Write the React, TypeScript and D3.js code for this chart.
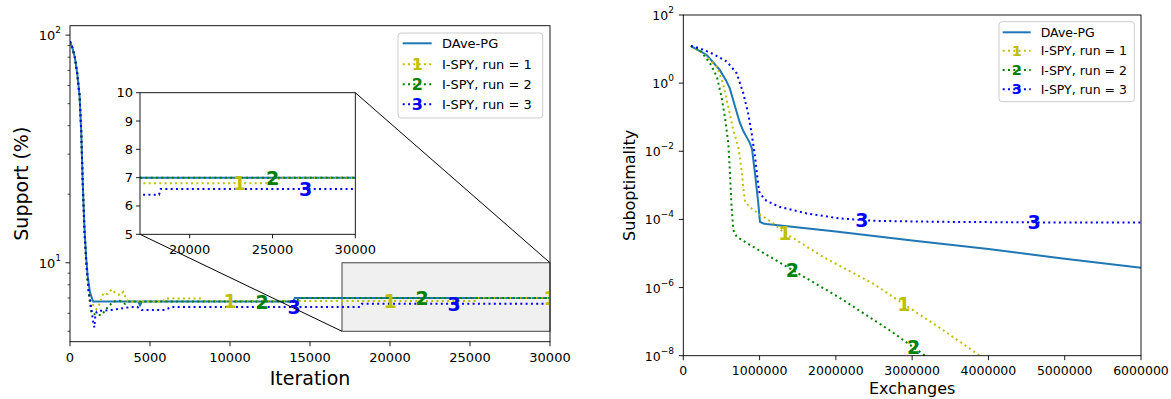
import React from 'react';
import * as d3 from 'd3';

const W = 1171;
const H = 399;

// ---------- Left panel data: [iteration, support %] ----------
const leftDave: [number, number][] = [
  [0, 94], [150, 88], [300, 80], [450, 68], [600, 54], [700, 38], [800, 22], [900, 14.5],
  [1000, 10.8], [1100, 8.8], [1250, 7.4], [1450, 6.75], [4250, 6.75], [4375, 6.5],
  [4500, 6.75], [13950, 6.75], [14050, 7.0], [30000, 7.0],
];
const leftRun1: [number, number][] = [
  [0, 94], [150, 88], [300, 80], [450, 68], [600, 54], [700, 38], [800, 22], [900, 14],
  [1000, 10], [1100, 8.2], [1250, 7.0], [1450, 6.5], [1650, 6.25], [1850, 6.6], [2080, 7.35],
  [2350, 7.3], [2600, 7.65], [2850, 7.35], [3125, 7.2], [3330, 7.45], [3540, 6.85],
  [3700, 6.75], [5800, 6.75], [5950, 6.97], [8200, 6.97], [8400, 6.8], [25300, 6.8],
  [25400, 7.0], [30000, 7.0],
];
const leftRun2: [number, number][] = [
  [0, 94], [150, 88], [300, 80], [450, 68], [600, 54], [700, 38], [800, 22], [900, 14],
  [1000, 10.5], [1150, 7.5], [1350, 6.0], [1670, 5.9], [1980, 5.9], [2290, 6.3], [2700, 6.75],
  [3100, 6.8], [3440, 6.6], [3700, 6.75], [14200, 6.75], [14300, 7.0], [30000, 7.0],
];
const leftRun3: [number, number][] = [
  [0, 94], [150, 88], [300, 80], [450, 68], [600, 54], [700, 38], [800, 22], [900, 14],
  [1000, 10.5], [1150, 7.8], [1300, 6.5], [1450, 5.5], [1520, 5.2], [1580, 5.8], [1670, 6.1],
  [1880, 6.15], [2600, 6.2], [3850, 6.4], [4200, 6.4], [4480, 6.2], [5940, 6.2], [6350, 6.4],
  [18150, 6.4], [18250, 6.6], [30000, 6.6],
];
const leftXTicks = [0, 5000, 10000, 15000, 20000, 25000, 30000];
const leftYMajor = [1, 2]; // exponents 10^1, 10^2
const leftYMinor = [5, 6, 7, 8, 9, 20, 30, 40, 50, 60, 70, 80, 90];
const leftMarks1 = [10000, 20000, 30000];
const leftMarks2 = [12000, 22000];
const leftMarks3 = [14000, 24000];

const insetXTicks = [20000, 25000, 30000];
const insetYTicks = [5, 6, 7, 8, 9, 10];
const insetMarks1 = [23000];
const insetMarks2 = [25000];
const insetMarks3 = [27000];

// ---------- Right panel data: [exchanges, suboptimality] ----------
const rightDave: [number, number][] = [
  [1e5, 12.3], [3.07e5, 6.7], [4.8e5, 2.4], [5.6e5, 1.2], [6.1e5, 0.7], [6.8e5, 0.2],
  [7.4e5, 0.07], [7.9e5, 0.038], [8.3e5, 0.026], [8.7e5, 0.018], [9.0e5, 0.012],
  [9.4e5, 0.0022], [9.83e5, 3e-4], [1.005e6, 8.5e-5], [1.05e6, 7.6e-5],
  [1.09e6, 7.3e-5], [2e6, 4.4e-5], [3e6, 2.4e-5], [4e6, 1.35e-5], [5e6, 7e-6], [6e6, 3.8e-6],
];
const rightRun1: [number, number][] = [
  [1e5, 12.3], [2.6e5, 7.5], [4.4e5, 3.0], [5.2e5, 0.99], [5.9e5, 0.2], [6.55e5, 0.042],
  [7.2e5, 0.0136], [7.65e5, 0.0028], [7.9e5, 7.3e-4], [8.1e5, 3.3e-4], [8.7e5, 2.3e-4],
  [1.0e6, 1.4e-4], [1.18e6, 7.7e-5], [1.33e6, 4e-5], [1.83e6, 8e-6], [2.49e6, 1.3e-6],
  [2.88e6, 3.4e-7], [3.36e6, 6.6e-8], [3.89e6, 1e-8], [4.0e6, 7e-9],
];
const rightRun2: [number, number][] = [
  [1e5, 12.3], [2.2e5, 9.3], [3.5e5, 3.8], [4.4e5, 1.55], [5.0e5, 0.4], [5.46e5, 0.1],
  [5.9e5, 0.017], [6.1e5, 0.0028], [6.3e5, 3e-4], [6.55e5, 4.9e-5], [7e5, 3.1e-5],
  [8.7e5, 1.8e-5], [1.4e6, 3.6e-6], [2.05e6, 5e-7], [2.71e6, 5.5e-8], [3.17e6, 1e-8], [3.25e6, 7e-9],
];
const rightRun3: [number, number][] = [
  [1e5, 12.3], [2.2e5, 10.5], [3.9e5, 7.2], [5.7e5, 4.3], [7e5, 1.95], [7.87e5, 0.5],
  [8.5e5, 0.13], [8.96e5, 0.034], [9.4e5, 0.007], [9.8e5, 1.15e-3], [1.0e6, 5.9e-4],
  [1.09e6, 3.5e-4], [1.27e6, 2.3e-4], [1.62e6, 1.5e-4], [2.05e6, 1.07e-4], [2.49e6, 9.1e-5],
  [3.36e6, 8.5e-5], [4.5e6, 8.2e-5], [6e6, 8.1e-5],
];
const rightXTicks = [0, 1000000, 2000000, 3000000, 4000000, 5000000, 6000000];
const rightYExps = [2, 0, -2, -4, -6, -8];
const rightMarks1 = [1.33e6, 2.89e6];
const rightMarks2 = [1.43e6, 3.02e6];
const rightMarks3 = [2.34e6, 4.6e6];

const seriesNames = ['DAve-PG', 'I-SPY, run = 1', 'I-SPY, run = 2', 'I-SPY, run = 3'];
const colors = ['#1f77b4', '#bfbf00', '#008000', '#0000ff'];

const FONT = 'DejaVu Sans, sans-serif';
const DASH = '2 3.3';
const SPINE = '#000';

type Pts = [number, number][];

function interpScreenY(pts: Pts, x: number, xs: (v: number) => number, ys: (v: number) => number) {
  for (let i = 0; i < pts.length - 1; i++) {
    const [x0, y0] = pts[i];
    const [x1, y1] = pts[i + 1];
    if (x >= x0 && x <= x1) {
      const t = x1 === x0 ? 0 : (x - x0) / (x1 - x0);
      return ys(y0) + (ys(y1) - ys(y0)) * t;
    }
  }
  return ys(pts[pts.length - 1][1]);
}

const Mark = ({ x, y, i, fs = 19 }: { x: number; y: number; i: number; fs?: number }) => (
  <text x={x} y={y} fill={colors[i]} fontFamily={FONT} fontWeight="bold" fontSize={fs}
    textAnchor="middle" dominantBaseline="central">{i}</text>
);

const Legend = ({ x, y, w, h, rows, sx0, sx1, tx, fs, mfs }:
  { x: number; y: number; w: number; h: number; rows: number[]; sx0: number; sx1: number; tx: number; fs: number; mfs: number }) => (
  <g>
    <rect x={x} y={y} width={w} height={h} rx={3} fill="#fff" fillOpacity={0.8} stroke="#ccc" strokeWidth={1} />
    {seriesNames.map((name, i) => (
      <g key={i}>
        <line x1={sx0} x2={sx1} y1={rows[i]} y2={rows[i]} stroke={colors[i]} strokeWidth={2}
          strokeDasharray={i === 0 ? undefined : DASH} />
        {i > 0 && <Mark x={(sx0 + sx1) / 2} y={rows[i]} i={i} fs={mfs} />}
        <text x={tx} y={rows[i]} fontFamily={FONT} fontSize={fs} dominantBaseline="central" fill="#000">{name}</text>
      </g>
    ))}
  </g>
);

export default function App() {
  // ---- Left main axes ----
  const L = { x0: 70, x1: 550, y0: 25.7, y1: 341.7 };
  const lx = d3.scaleLinear().domain([0, 30000]).range([L.x0, L.x1]);
  const ly = d3.scaleLog().domain([4.5, 110]).range([L.y1, L.y0]);
  const lLine = d3.line<[number, number]>().x(d => lx(d[0])).y(d => ly(d[1]));

  // ---- Inset ----
  const I = { x0: 140, x1: 355.3, y0: 92.7, y1: 234.3 };
  const ix = d3.scaleLinear().domain([17000, 30000]).range([I.x0, I.x1]);
  const iy = d3.scaleLinear().domain([5, 10]).range([I.y1, I.y0]);
  const iLine = d3.line<[number, number]>().x(d => ix(d[0])).y(d => iy(d[1]));

  // ---- Right axes ----
  const R = { x0: 683.3, x1: 1141, y0: 15, y1: 355.7 };
  const rx = d3.scaleLinear().domain([0, 6000000]).range([R.x0, R.x1]);
  const ry = d3.scaleLog().domain([1e-8, 1e2]).range([R.y1, R.y0]);
  const rLine = d3.line<[number, number]>().x(d => rx(d[0])).y(d => ry(d[1]));

  const leftSeries = [leftDave, leftRun1, leftRun2, leftRun3];
  const rightSeries = [rightDave, rightRun1, rightRun2, rightRun3];
  const leftMarks = [[], leftMarks1, leftMarks2, leftMarks3];
  const insetMarks = [[], insetMarks1, insetMarks2, insetMarks3];
  const rightMarks = [[], rightMarks1, rightMarks2, rightMarks3];

  // zoom box in main coordinates
  const bx0 = lx(17000), bx1 = lx(30000), by0 = ly(10), by1 = ly(5);

  return (
    <svg width={W} height={H} style={{ position: 'absolute', left: 0, top: 0, background: '#fff' }}
      xmlns="http://www.w3.org/2000/svg">
      <defs>
        <clipPath id="clipL"><rect x={L.x0} y={L.y0} width={L.x1 - L.x0} height={L.y1 - L.y0} /></clipPath>
        <clipPath id="clipI"><rect x={I.x0} y={I.y0} width={I.x1 - I.x0} height={I.y1 - I.y0} /></clipPath>
        <clipPath id="clipR"><rect x={R.x0} y={R.y0} width={R.x1 - R.x0} height={R.y1 - R.y0} /></clipPath>
      </defs>
      <rect x={0} y={0} width={W} height={H} fill="#fff" />

      {/* ===== LEFT PANEL ===== */}
      <rect x={bx0} y={by0} width={bx1 - bx0} height={by1 - by0} fill="#f0f0f0" stroke="#444" strokeWidth={1} />
      <g clipPath="url(#clipL)">
        {leftSeries.map((s, i) => (
          <path key={i} d={lLine(s) || ''} fill="none" stroke={colors[i]} strokeWidth={2}
            strokeDasharray={i === 0 ? undefined : DASH} />
        ))}
        {leftMarks.map((ms, i) => ms.map((m, k) => (
          <Mark key={`${i}-${k}`} x={lx(m)} y={interpScreenY(leftSeries[i], m, lx, ly)} i={i} />
        )))}
      </g>
      <rect x={L.x0} y={L.y0} width={L.x1 - L.x0} height={L.y1 - L.y0} fill="none" stroke={SPINE} strokeWidth={0.9} />
      {leftXTicks.map(t => (
        <g key={t}>
          <line x1={lx(t)} x2={lx(t)} y1={L.y1} y2={L.y1 + 4.5} stroke={SPINE} strokeWidth={0.9} />
          <text x={lx(t)} y={362} textAnchor="middle" fontFamily={FONT} fontSize={13}>{t}</text>
        </g>
      ))}
      {leftYMajor.map(e => (
        <g key={e}>
          <line x1={L.x0 - 4.5} x2={L.x0} y1={ly(Math.pow(10, e))} y2={ly(Math.pow(10, e))} stroke={SPINE} strokeWidth={0.9} />
          <text x={61} y={ly(Math.pow(10, e)) + 5} textAnchor="end" fontFamily={FONT} fontSize={13}>
            10<tspan dy={-7} fontSize={9}>{e}</tspan>
          </text>
        </g>
      ))}
      {leftYMinor.map(v => (
        <line key={v} x1={L.x0 - 2.5} x2={L.x0} y1={ly(v)} y2={ly(v)} stroke={SPINE} strokeWidth={0.7} />
      ))}
      <text x={310} y={385} textAnchor="middle" fontFamily={FONT} fontSize={19}>Iteration</text>
      <text transform={`translate(28,${(L.y0 + L.y1) / 2}) rotate(-90)`} textAnchor="middle"
        fontFamily={FONT} fontSize={19}>Support (%)</text>

      {/* connectors */}
      <line x1={I.x1} y1={I.y0} x2={bx1} y2={by0} stroke="#000" strokeWidth={1} />
      <line x1={I.x0} y1={I.y1} x2={bx0} y2={by1} stroke="#000" strokeWidth={1} />

      <Legend x={398} y={33} w={144.7} h={85} rows={[43.3, 64.3, 84.3, 104.3]}
        sx0={402.7} sx1={431.7} tx={442} fs={13} mfs={16} />

      {/* inset */}
      <rect x={I.x0} y={I.y0} width={I.x1 - I.x0} height={I.y1 - I.y0} fill="#fff" />
      <g clipPath="url(#clipI)">
        {leftSeries.map((s, i) => (
          <path key={i} d={iLine(s) || ''} fill="none" stroke={colors[i]} strokeWidth={2}
            strokeDasharray={i === 0 ? undefined : DASH} />
        ))}
        {insetMarks.map((ms, i) => ms.map((m, k) => (
          <Mark key={`${i}-${k}`} x={ix(m)} y={interpScreenY(leftSeries[i], m, ix, iy)} i={i} />
        )))}
      </g>
      <rect x={I.x0} y={I.y0} width={I.x1 - I.x0} height={I.y1 - I.y0} fill="none" stroke={SPINE} strokeWidth={0.9} />
      {insetXTicks.map(t => (
        <g key={t}>
          <line x1={ix(t)} x2={ix(t)} y1={I.y1} y2={I.y1 + 4} stroke={SPINE} strokeWidth={0.9} />
          <text x={ix(t)} y={254.3} textAnchor="middle" fontFamily={FONT} fontSize={13}>{t}</text>
        </g>
      ))}
      {insetYTicks.map(t => (
        <g key={t}>
          <line x1={I.x0 - 4} x2={I.x0} y1={iy(t)} y2={iy(t)} stroke={SPINE} strokeWidth={0.9} />
          <text x={I.x0 - 7} y={iy(t)} textAnchor="end" dominantBaseline="central" fontFamily={FONT} fontSize={13}>{t}</text>
        </g>
      ))}

      {/* ===== RIGHT PANEL ===== */}
      <g clipPath="url(#clipR)">
        {rightSeries.map((s, i) => (
          <path key={i} d={rLine(s) || ''} fill="none" stroke={colors[i]} strokeWidth={2}
            strokeDasharray={i === 0 ? undefined : DASH} />
        ))}
      </g>
      {rightMarks.map((ms, i) => ms.map((m, k) => (
        <Mark key={`${i}-${k}`} x={rx(m)} y={interpScreenY(rightSeries[i], m, rx, ry)} i={i} />
      )))}
      <rect x={R.x0} y={R.y0} width={R.x1 - R.x0} height={R.y1 - R.y0} fill="none" stroke={SPINE} strokeWidth={0.9} />
      {rightXTicks.map(t => (
        <g key={t}>
          <line x1={rx(t)} x2={rx(t)} y1={R.y1} y2={R.y1 + 4.5} stroke={SPINE} strokeWidth={0.9} />
          <text x={rx(t)} y={375} textAnchor="middle" fontFamily={FONT} fontSize={12.5}>{t}</text>
        </g>
      ))}
      {rightYExps.map(e => (
        <g key={e}>
          <line x1={R.x0 - 4.5} x2={R.x0} y1={ry(Math.pow(10, e))} y2={ry(Math.pow(10, e))} stroke={SPINE} strokeWidth={0.9} />
          <text x={674} y={ry(Math.pow(10, e)) + 5} textAnchor="end" fontFamily={FONT} fontSize={12.5}>
            10<tspan dy={-7} fontSize={9}>{e < 0 ? `\u2212${-e}` : `${e}`}</tspan>
          </text>
        </g>
      ))}
      <text x={(R.x0 + R.x1) / 2} y={394} textAnchor="middle" fontFamily={FONT} fontSize={16}>Exchanges</text>
      <text transform={`translate(635,${(R.y0 + R.y1) / 2}) rotate(-90)`} textAnchor="middle"
        fontFamily={FONT} fontSize={16}>Suboptimality</text>

      <Legend x={999} y={21.7} w={135.3} h={80} rows={[32.3, 50.7, 70, 89.3]}
        sx0={1002.7} sx1={1030.7} tx={1040.7} fs={12.5} mfs={14.5} />
    </svg>
  );
}
